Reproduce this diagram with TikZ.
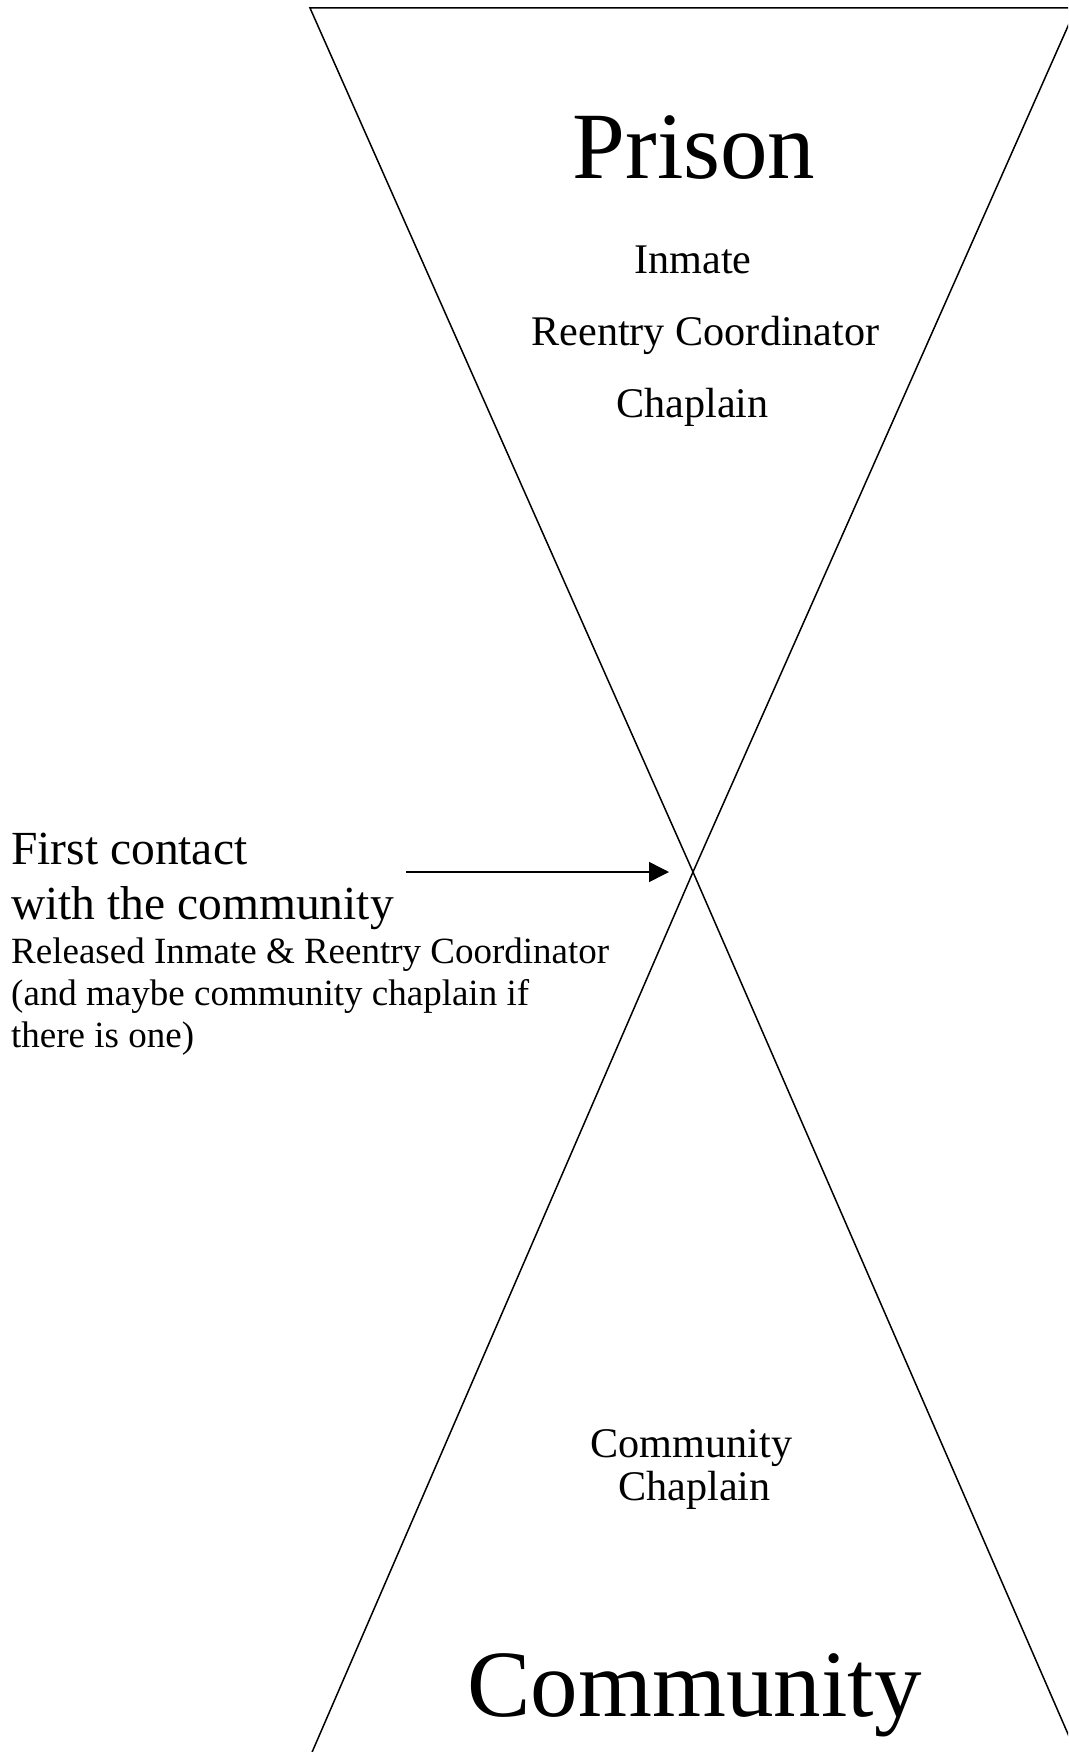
\documentclass[tikz,border=0pt]{standalone}
\usepackage{fontspec}
\setmainfont{Liberation Serif}
\usetikzlibrary{arrows.meta}
\tikzset{
  outline/.style={draw=black, line width=1.5pt, line join=miter},
  bigtxt/.style={anchor=base, inner sep=0pt, font=\fontsize{95}{110}\selectfont},
  midtxt/.style={anchor=base, inner sep=0pt, font=\fontsize{42.2}{50}\selectfont},
  lefttxt/.style={anchor=base west, inner sep=0pt, font=\fontsize{47.5}{57}\selectfont},
  smalltxt/.style={anchor=base west, inner sep=0pt, font=\fontsize{37}{42}\selectfont},
  pointer/.style={draw=black, line width=1.5pt, -{Triangle[length=20pt,width=20pt]}}
}
\begin{document}
\begin{tikzpicture}[x=1pt,y=-1pt]
\useasboundingbox (0,0) rectangle (1068,1752);
\fill[white] (0,0) rectangle (1068,1752);
\begin{scope}
\clip (0,0) rectangle (1068,1752);
% top triangle (Prison)
\coordinate (cross) at (693,872);
\draw[outline] (310,8) -- (1076,8) -- (cross) -- cycle;
% bottom triangle (Community)
\draw[outline] (300,1780) -- (cross) -- (1088,1780);
\end{scope}

\node[bigtxt] (prison) at (694,179) {Prison};
\node[midtxt] (inmate) at (693,274) {Inmate};
\node[midtxt] (reentry) at (705.5,345) {Reentry Coordinator};
\node[midtxt] (chaplain) at (692.5,417) {Chaplain};

\node[midtxt] (commchap1) at (691.5,1457) {Community};
\node[midtxt] (commchap2) at (694.5,1500) {Chaplain};
\node[bigtxt] (community) at (694.5,1716) {Community};

\node[lefttxt] (first1) at (11,864) {First contact};
\node[lefttxt] (first2) at (11,919) {with the community};
\node[smalltxt] (rel1) at (11,963) {Released Inmate \& Reentry Coordinator};
\node[smalltxt] (rel2) at (11,1005) {(and maybe community chaplain if};
\node[smalltxt] (rel3) at (11,1047) {there is one)};

\coordinate (arrowstart) at (406,872);
\coordinate (arrowtip) at (669,872);
\draw[pointer] (arrowstart) -- (arrowtip);
\end{tikzpicture}
\end{document}
